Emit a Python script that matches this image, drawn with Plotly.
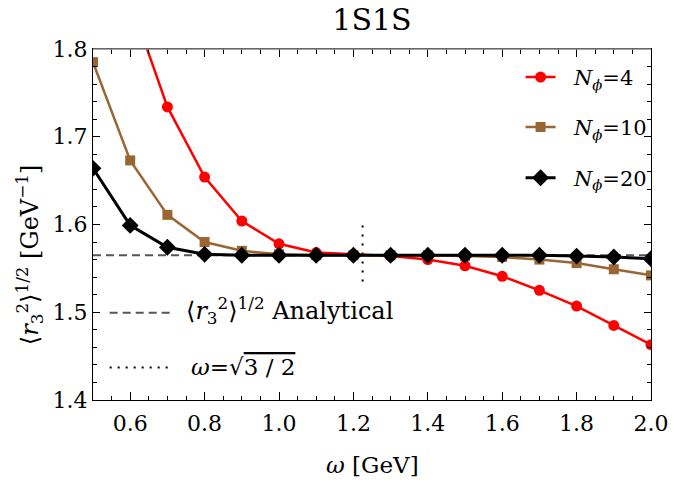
import math
import plotly.graph_objects as go

# ---- data ----
omega = [0.5, 0.6, 0.7, 0.8, 0.9, 1.0, 1.1, 1.2, 1.3, 1.4, 1.5, 1.6, 1.7, 1.8, 1.9, 2.0]
r_N4 = [2.02, 1.855, 1.734, 1.654, 1.604, 1.578, 1.568, 1.566, 1.564, 1.560, 1.553, 1.541, 1.525, 1.507, 1.485, 1.463]
r_N10 = [1.785, 1.673, 1.611, 1.580, 1.570, 1.566, 1.565, 1.565, 1.565, 1.565, 1.564, 1.563, 1.560, 1.556, 1.549, 1.542]
r_N20 = [1.664, 1.599, 1.574, 1.566, 1.565, 1.565, 1.565, 1.565, 1.565, 1.565, 1.565, 1.565, 1.565, 1.564, 1.563, 1.561]
analytic_x = [0.5, 2.0]
analytic_r = [1.565, 1.565]
omega_special = [math.sqrt(3 / 2), math.sqrt(3 / 2)]
special_y = [1.535, 1.600]

x_ticks = [0.6, 0.8, 1.0, 1.2, 1.4, 1.6, 1.8, 2.0]
y_ticks = [1.4, 1.5, 1.6, 1.7, 1.8]

FONT = "DejaVu Serif"
RED = "#FF0000"
BROWN = "#996633"
GRAY = "#555555"

fig = go.Figure()

fig.add_trace(go.Scatter(x=omega_special, y=special_y, mode="lines",
                         line=dict(color="black", width=2, dash="2px,7px"), showlegend=False))
fig.add_trace(go.Scatter(x=analytic_x, y=analytic_r, mode="lines",
                         line=dict(color=GRAY, width=2, dash="8px,5px"), showlegend=False))

fig.add_trace(go.Scatter(x=omega, y=r_N4, mode="lines+markers",
                         name="\u00a0\u00a0<i>N</i><sub><i>\u03d5</i></sub>=4",
                         line=dict(color=RED, width=2.5),
                         marker=dict(symbol="circle", size=11, color=RED), legend="legend"))
fig.add_trace(go.Scatter(x=omega, y=r_N10, mode="lines+markers",
                         name="\u00a0\u00a0<i>N</i><sub><i>\u03d5</i></sub>=10",
                         line=dict(color=BROWN, width=2.5),
                         marker=dict(symbol="square", size=10, color=BROWN), legend="legend2"))
fig.add_trace(go.Scatter(x=omega, y=r_N20, mode="lines+markers",
                         name="\u00a0\u00a0<i>N</i><sub><i>\u03d5</i></sub>=20",
                         line=dict(color="black", width=3),
                         marker=dict(symbol="diamond", size=13, color="black"), legend="legend3"))

W, H = 681, 484
L, R, T, B = 93, 19, 48.5, 83.5
pw, ph = W - L - R, H - T - B


def px(xp):
    return (xp - L) / pw


def py(yp):
    return (H - B - yp) / ph


leg_common = dict(xanchor="left", yanchor="middle", bgcolor="rgba(0,0,0,0)",
                  font=dict(family=FONT, size=21, color="black"), borderwidth=0)

fig.update_layout(
    width=W, height=H,
    margin=dict(l=L, r=R, t=T, b=B),
    paper_bgcolor="white", plot_bgcolor="white",
    font=dict(family=FONT, size=22, color="black"),
    title=dict(text="1S1S", x=0.5, xref="paper", xanchor="center",
               y=1 - 19 / H, yref="container", yanchor="middle",
               font=dict(family=FONT, size=30, color="black")),
    legend=dict(x=px(529), y=py(77), **leg_common),
    legend2=dict(x=px(529), y=py(127), **leg_common),
    legend3=dict(x=px(529), y=py(178), **leg_common),
)

axis_common = dict(showgrid=False, zeroline=False, showline=True, linecolor="black", linewidth=1,
                   mirror="ticks", ticks="inside", tickcolor="black", tickwidth=1,
                   tickfont=dict(family=FONT, size=22, color="black"))

fig.update_xaxes(range=[0.5, 2.0], tickvals=x_ticks, ticktext=[f"{v:.1f}" for v in x_ticks],
                 ticklen=8, ticklabelstandoff=4,
                 minor=dict(ticks="inside", dtick=0.05, tick0=0.5, ticklen=4.5,
                            tickcolor="black", tickwidth=1, showgrid=False),
                 **axis_common)
fig.update_yaxes(range=[1.4, 1.8], tickvals=y_ticks, ticktext=[f"{v:.1f}" for v in y_ticks],
                 ticklen=7,
                 minor=dict(ticks="inside", dtick=0.02, tick0=1.4, ticklen=4,
                            tickcolor="black", tickwidth=1, showgrid=False),
                 **axis_common)

# gray top frame as in the reference
fig.add_shape(type="line", xref="paper", yref="paper", x0=0, x1=1, y0=1, y1=1,
              line=dict(color="#888888", width=1.5), layer="above")

# axis titles
fig.add_annotation(text="<i>\u03c9</i> [GeV]", xref="paper", yref="paper", x=0.5, y=py(466),
                   xanchor="center", yanchor="middle", showarrow=False,
                   font=dict(family=FONT, size=23, color="black"))
fig.add_annotation(text="\u27e8<i>r</i><sub>3</sub><sup>2</sup>\u27e9<sup>1/2</sup> [GeV<sup>\u22121</sup>]",
                   xref="paper", yref="paper", x=px(29), y=py(255), textangle=-90,
                   xanchor="center", yanchor="middle", showarrow=False,
                   font=dict(family=FONT, size=24, color="black"))

# bottom-left legend for reference lines
fig.add_shape(type="line", xref="paper", yref="paper", x0=px(110), x1=px(172), y0=py(313), y1=py(313),
              line=dict(color=GRAY, width=2, dash="8px,5px"))
fig.add_annotation(text="\u27e8<i>r</i><sub>3</sub><sup>2</sup>\u27e9<sup>1/2</sup> Analytical",
                   xref="paper", yref="paper", x=px(186), y=py(311),
                   xanchor="left", yanchor="middle", showarrow=False,
                   font=dict(family=FONT, size=24, color="black"))
fig.add_shape(type="line", xref="paper", yref="paper", x0=px(110), x1=px(172), y0=py(368), y1=py(368),
              line=dict(color="black", width=2, dash="2px,6px"))
fig.add_annotation(text="<i>\u03c9</i>=\u221a<span style='text-decoration:overline'>3 / 2</span>",
                   xref="paper", yref="paper", x=px(191), y=py(367),
                   xanchor="left", yanchor="middle", showarrow=False,
                   font=dict(family=FONT, size=23, color="black"))

fig.write_html("out.html")
